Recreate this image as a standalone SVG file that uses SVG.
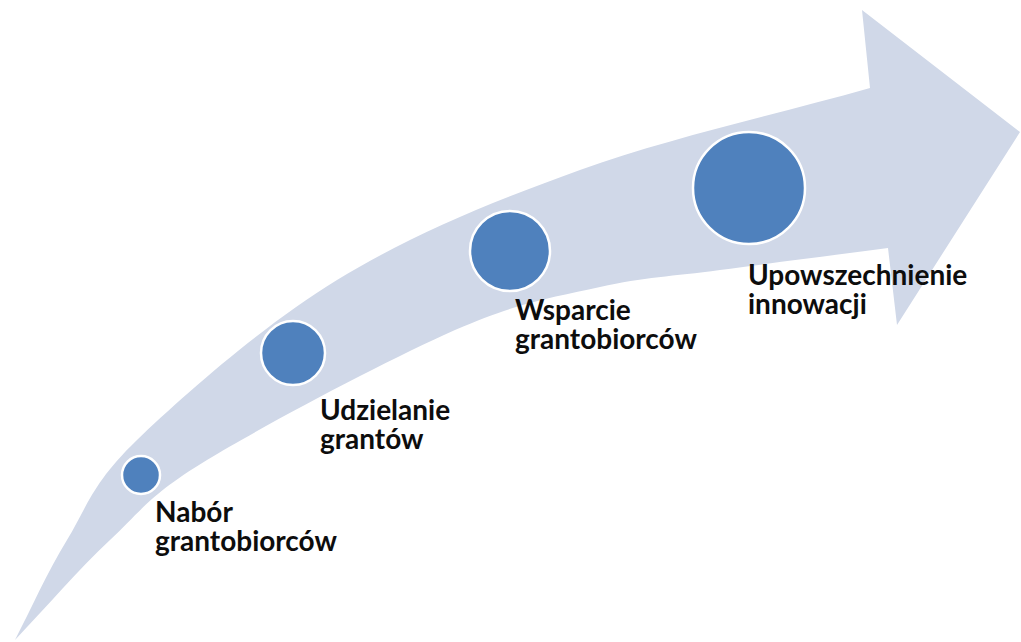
<svg xmlns="http://www.w3.org/2000/svg" width="1021" height="642" viewBox="0 0 1021 642">
<style>
.band{fill:#d0d8e8;stroke:none}
.dot{fill:#4f81bd;stroke:#ffffff;stroke-width:2.5}
.lbl{font-family:Lato,"Open Sans","Liberation Sans",sans-serif;font-weight:700;font-size:28px;fill:#0d0d0d}
</style>
<rect width="1021" height="642" fill="#ffffff"/>
<g id="arrow">
<path class="band" d="M15,640 C32,607 46.7,573.3 67,540 C87.3,506.7 92,483.3 137,440 C182,396.7 263.2,325 337,280 C410.8,235 491.2,202 580,170 C668.8,138 773.3,115.3 870,88 L862,10 L1020,132 L897,325 L888,248 C832,255.3 768,263.5 720,270 C672,276.5 644.2,277 600,287 C555.8,297 520.5,301.2 455,330 C389.5,358.8 264.5,425 207,460 C149.5,495 142,510 110,540 C78,570 46.7,606.7 15,640 Z"/>
</g>
<g id="node1">
<circle class="dot" cx="141" cy="475" r="19"/>
<text class="lbl" x="155" y="522">Nabór<tspan x="155" dy="29">grantobiorców</tspan></text>
</g>
<g id="node2">
<circle class="dot" cx="293" cy="353" r="32"/>
<text class="lbl" x="320" y="420">Udzielanie<tspan x="320" dy="29">grantów</tspan></text>
</g>
<g id="node3">
<circle class="dot" cx="510" cy="251" r="40"/>
<text class="lbl" x="515" y="320">Wsparcie<tspan x="515" dy="29">grantobiorców</tspan></text>
</g>
<g id="node4">
<circle class="dot" cx="749" cy="188" r="56"/>
<text class="lbl" x="748" y="285">Upowszechnienie<tspan x="748" dy="29">innowacji</tspan></text>
</g>
</svg>
